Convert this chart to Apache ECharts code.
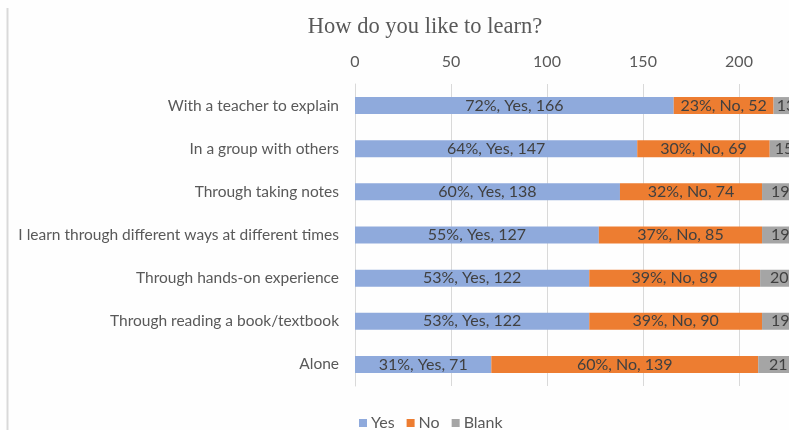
<!DOCTYPE html>
<html>
<head>
<meta charset="utf-8">
<script src="https://cdn.jsdelivr.net/npm/echarts@6/dist/echarts.min.js"></script>
<style>
  html, body { margin: 0; padding: 0; background: #fefefe; overflow: hidden; width: 789px; height: 430px; }
  /* the drawing surface is wider than the window: the value axis continues past the right edge */
  #chart { width: 900px; height: 430px; }
</style>
</head>
<body>
<div id="chart"></div>
<script>
// Survey answers: how respondents like to learn
const categories = [
  'With a teacher to explain',
  'In a group with others',
  'Through taking notes',
  'I learn through different ways at different times',
  'Through hands-on experience',
  'Through reading a book/textbook',
  'Alone'
];
const yesCounts = [166, 147, 138, 127, 122, 122, 71];
const yesPercents = [72, 64, 60, 55, 53, 53, 31];
const noCounts = [52, 69, 74, 85, 89, 90, 139];
const noPercents = [23, 30, 32, 37, 39, 39, 60];
const blankCounts = [13, 15, 19, 19, 20, 19, 21];
const axisTicks = [0, 50, 100, 150, 200, 250];

const textColor = '#595959';
const labelColor = '#404040';
const uiFont = 'Lato';

const chart = echarts.init(document.getElementById('chart'));

function labelFor(name, pct) {
  return {
    show: true,
    position: 'inside',
    color: labelColor,
    fontFamily: uiFont,
    fontSize: 16,
    formatter: p => pct ? `${pct[p.dataIndex]}%, ${name}, ${p.value}` : `${p.value}`
  };
}

chart.setOption({
  backgroundColor: '#fefefe',
  animation: false,
  title: {
    text: 'How do you like to learn?',
    left: 420,
    textAlign: 'center',
    top: 11,
    textStyle: {
      fontFamily: 'Liberation Serif',
      fontWeight: 'normal',
      fontSize: 22.5,
      color: textColor
    }
  },
  legend: {
    data: ['Yes', 'No', 'Blank'],
    left: 354,
    top: 410,
    itemWidth: 8,
    itemHeight: 8,
    itemGap: 12,
    icon: 'rect',
    textStyle: { color: textColor, fontFamily: uiFont, fontSize: 16, padding: [0, 0, 0, -1] },
    selectedMode: false
  },
  grid: {
    left: 355,
    width: 480,
    top: 84,
    height: 302,
    containLabel: false
  },
  xAxis: {
    type: 'value',
    position: 'top',
    min: axisTicks[0],
    max: axisTicks[axisTicks.length - 1],
    interval: axisTicks[1] - axisTicks[0],
    axisLine: { show: false },
    axisTick: { show: false },
    splitLine: { lineStyle: { color: '#d9d9d9', width: 1 } },
    axisLabel: { color: textColor, fontFamily: uiFont, fontSize: 16, margin: 14 }
  },
  yAxis: {
    type: 'category',
    inverse: true,
    data: categories,
    axisLine: { lineStyle: { color: '#d9d9d9' } },
    axisTick: { show: false },
    axisLabel: { color: textColor, fontFamily: uiFont, fontSize: 15.5, margin: 16 }
  },
  series: [
    {
      name: 'Yes', type: 'bar', stack: 'total', barWidth: 17,
      itemStyle: { color: '#8faadc' },
      label: labelFor('Yes', yesPercents),
      data: yesCounts
    },
    {
      name: 'No', type: 'bar', stack: 'total', barWidth: 17,
      itemStyle: { color: '#ed7d31' },
      label: labelFor('No', noPercents),
      data: noCounts
    },
    {
      name: 'Blank', type: 'bar', stack: 'total', barWidth: 17,
      itemStyle: { color: '#a5a5a5' },
      label: labelFor('Blank', null),
      data: blankCounts
    }
  ],
  // thin frame edge on the left side
  graphic: [{
    type: 'line',
    shape: { x1: 7.5, y1: 8, x2: 7.5, y2: 430 },
    style: { stroke: '#d9d9d9', lineWidth: 2 },
    silent: true
  }]
});
</script>
</body>
</html>
